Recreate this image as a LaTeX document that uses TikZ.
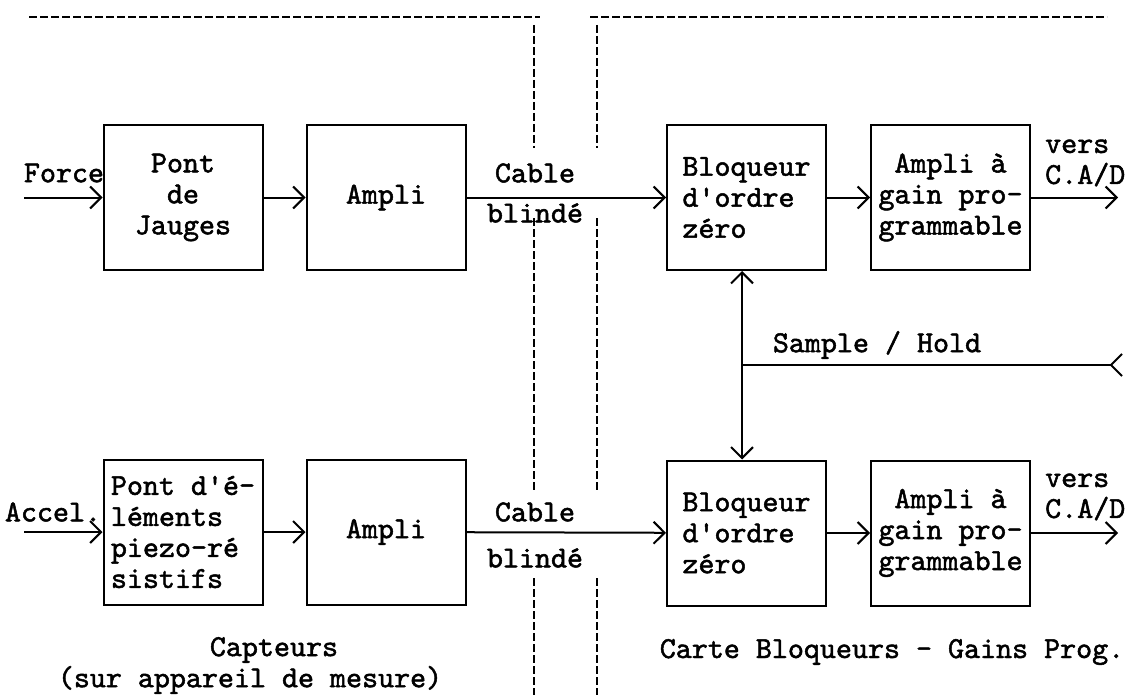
\documentclass[tikz,border=0pt]{standalone}
\usepackage{fontspec}
\setmonofont{lmmono10-regular.otf}[FakeBold=1.6]
\usepackage{tikz}
\usetikzlibrary{arrows.meta}
\tikzset{
  blk/.style={draw,line width=2pt,minimum width=159pt,minimum height=145pt,inner sep=0pt,align=center},
  sig/.style={line width=2pt,-{Straight Barb[length=11pt,width=22pt]}},
  sep/.style={line width=1.6pt,dash pattern=on 8pt off 3pt},
  lbl/.style={inner sep=0pt}
}

\begin{document}
\begin{tikzpicture}[x=1pt,y=-1pt,font=\ttfamily\fontsize{30.5}{31}\selectfont]
    \useasboundingbox (0,0) rectangle (1134,695);
    % separations
    \draw[sep] (29,17) -- (540,17);
    \draw[sep] (590,17) -- (1107,17);
    \foreach \x in {534,597} {
      \draw[sep] (\x,25) -- (\x,148);
      \draw[sep] (\x,218) -- (\x,490);
      \draw[sep] (\x,578) -- (\x,695);
    }
    % voie force
    \node[blk] (pj) at (183,197.5) {Pont\\de\\Jauges};
    \node[blk] (amp1) at (386,197.5) {Ampli};
    \node[blk,align=left] (bz1) at (746.5,197.5) {Bloqueur\\d'ordre\\zéro};
    \node[blk] (ag1) at (950.5,197.5) {Ampli à\\gain pro-\\grammable};
    \coordinate (fin) at (24,197.5);
    \coordinate (out1) at (1118,197.5);
    \node[lbl] (force) at (64,173) {Force};
    \node[lbl] (cab1) at (535,173) {Cable};
    \node[lbl] (bl1) at (535,213) {blindé};
    \node[lbl,align=left,anchor=west] (ca1) at (1045,163) {vers\\C.A/D};
    \draw[sig] (fin) -- (pj);
    \draw[sig] (pj) -- (amp1);
    \draw[sig] (amp1) -- (bz1);
    \draw[sig] (bz1) -- (ag1);
    \draw[sig] (ag1) -- (out1);
    % voie acceleration
    \node[blk,align=left] (pe) at (183,532) {Pont d'é-\\léments\\piezo-ré\\sistifs};
    \node[blk] (amp2) at (386,532) {Ampli};
    \node[blk,align=left] (bz2) at (746.5,533) {Bloqueur\\d'ordre\\zéro};
    \node[blk] (ag2) at (950.5,533) {Ampli à\\gain pro-\\grammable};
    \coordinate (ain) at (24,532);
    \coordinate (out2) at (1118,533);
    \node[lbl] (acc) at (53,512) {Accel.};
    \node[lbl] (cab2) at (535,512) {Cable};
    \node[lbl] (bl2) at (535,558) {blindé};
    \node[lbl,align=left,anchor=west] (ca2) at (1045,497) {vers\\C.A/D};
    \draw[sig] (ain) -- (pe);
    \draw[sig] (pe) -- (amp2);
    \draw[sig] (amp2) -- (bz2);
    \draw[sig] (bz2) -- (ag2);
    \draw[sig] (ag2) -- (out2);
    % commande sample / hold
    \coordinate (sh) at (742,365);
    \coordinate (shin) at (1123,365);
    \node[lbl] (shl) at (877,345) {Sample / Hold};
    \draw[sig] (sh) -- (sh |- bz1.south);
    \draw[sig] (sh) -- (sh |- bz2.north);
    \draw[line width=2pt,-{Straight Barb[reversed,length=11pt,width=22pt]}] (sh) -- (shin);
    % titres
    \node[lbl] (capt) at (274,650) {Capteurs};
    \node[lbl] (sur) at (250,680) {(sur appareil de mesure)};
    \node[lbl] (carte) at (892,652) {Carte Bloqueurs - Gains Prog.};
  \end{tikzpicture}
\end{document}
